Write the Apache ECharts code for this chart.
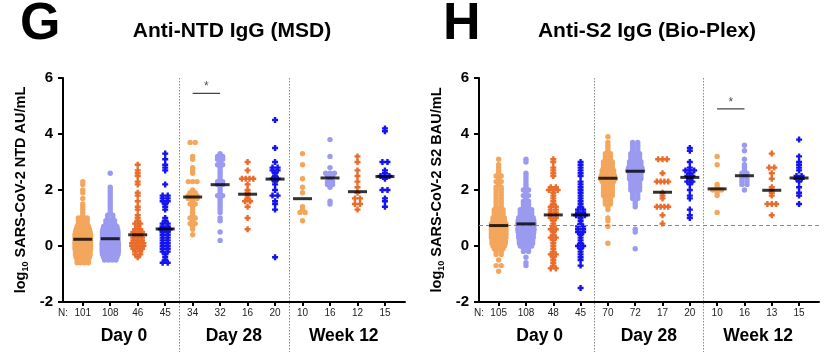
<!DOCTYPE html>
<html>
<head>
<meta charset="utf-8">
<script src="https://cdn.jsdelivr.net/npm/echarts@6/dist/echarts.min.js"></script>
<style>
  html, body { margin: 0; padding: 0; background: #fff; }
  #chart { width: 824px; height: 352px; }
</style>
</head>
<body>
<div id="chart"></div>
<script>
// Datos (log10)
// Panel G: Anti-NTD IgG (MSD)
const ntd_d0_a = [2.3, 2.2, 2.0, 1.9, 1.7, 1.5, 1.4, 1.3, 1.2, 1.1, 1.0, 1.0, 1.0, 0.9, 0.9, 0.9, 0.8, 0.8, 0.8,
  0.7, 0.7, 0.7, 0.7, 0.6, 0.6, 0.6, 0.6, 0.6, 0.5, 0.5, 0.5, 0.5, 0.5, 0.5, 0.4, 0.4, 0.4, 0.4, 0.4, 0.4, 0.4,
  0.3, 0.3, 0.3, 0.3, 0.3, 0.3, 0.3, 0.2, 0.2, 0.2, 0.2, 0.2, 0.2, 0.2, 0.1, 0.1, 0.1, 0.1, 0.1, 0.1, 0.1,
  0.0, 0.0, 0.0, 0.0, 0.0, 0.0, 0.0, -0.1, -0.1, -0.1, -0.1, -0.1, -0.1, -0.1, -0.2, -0.2, -0.2, -0.2, -0.2, -0.2,
  -0.3, -0.3, -0.3, -0.3, -0.3, -0.3, -0.4, -0.4, -0.4, -0.4, -0.4, -0.5, -0.5, -0.5, -0.5, -0.6, -0.6, -0.6, -0.6];
const ntd_d0_b = [2.6, 2.1, 2.0, 1.9, 1.8, 1.7, 1.6, 1.5, 1.4, 1.3, 1.2, 1.1, 1.1, 1.0, 1.0, 0.9, 0.9, 0.9,
  0.8, 0.8, 0.8, 0.7, 0.7, 0.7, 0.7, 0.7, 0.6, 0.6, 0.6, 0.6, 0.6, 0.6, 0.5, 0.5, 0.5, 0.5, 0.5, 0.5, 0.5,
  0.4, 0.4, 0.4, 0.4, 0.4, 0.4, 0.4, 0.3, 0.3, 0.3, 0.3, 0.3, 0.3, 0.3, 0.2, 0.2, 0.2, 0.2, 0.2, 0.2, 0.2,
  0.1, 0.1, 0.1, 0.1, 0.1, 0.1, 0.1, 0.1, 0.0, 0.0, 0.0, 0.0, 0.0, 0.0, 0.0, 0.0,
  -0.1, -0.1, -0.1, -0.1, -0.1, -0.1, -0.1, -0.1, -0.2, -0.2, -0.2, -0.2, -0.2, -0.2, -0.2, -0.2,
  -0.3, -0.3, -0.3, -0.3, -0.3, -0.3, -0.3, -0.4, -0.4, -0.4, -0.4, -0.4, -0.5, -0.5, -0.5, -0.5];
const ntd_d0_c = [2.9, 2.7, 2.6, 2.5, 2.3, 2.2, 1.9, 1.8, 1.6, 1.4, 1.3, 1.1, 1.0, 0.9, 0.8, 0.8, 0.7, 0.6, 0.6,
  0.5, 0.5, 0.5, 0.4, 0.4, 0.3, 0.3, 0.3, 0.2, 0.2, 0.2, 0.1, 0.1, 0.1, 0.1, 0.0, 0.0, 0.0, 0.0,
  -0.1, -0.1, -0.1, -0.2, -0.2, -0.3, -0.3, -0.4];
const ntd_d0_d = [3.3, 3.1, 2.9, 2.8, 2.7, 2.2, 1.8, 1.8, 1.7, 1.7, 1.6, 1.6, 1.5, 1.4, 1.3, 1.0, 0.9, 0.8, 0.8,
  0.7, 0.7, 0.6, 0.6, 0.6, 0.5, 0.5, 0.4, 0.4, 0.3, 0.3, 0.2, 0.2, 0.1, 0.1, 0.0, 0.0, -0.1, -0.1,
  -0.2, -0.2, -0.3, -0.4, -0.5, -0.6, -0.6];
const ntd_d28_a = [3.7, 3.7, 3.2, 3.1, 2.8, 2.7, 2.6, 2.3, 2.3, 2.3, 2.0, 1.9, 1.9, 1.8, 1.8, 1.8, 1.7, 1.7, 1.7,
  1.6, 1.5, 1.5, 1.4, 1.3, 1.2, 1.1, 1.0, 1.0, 0.9, 0.8, 0.8, 0.7, 0.6, 0.4];
const ntd_d28_b = [3.3, 3.2, 3.2, 3.1, 3.1, 3.0, 2.9, 2.9, 2.8, 2.7, 2.6, 2.5, 2.4, 2.3, 2.3, 2.2, 2.2, 2.1, 2.0,
  1.9, 1.8, 1.8, 1.7, 1.6, 1.5, 1.4, 1.3, 1.2, 1.0, 0.9, 0.5, 0.2];
const ntd_d28_c = [3.0, 2.7, 2.4, 2.4, 2.4, 2.4, 2.2, 2.0, 1.9, 1.8, 1.7, 1.6, 1.6, 1.4, 1.0, 0.6];
const ntd_d28_d = [4.5, 3.5, 3.0, 2.8, 2.8, 2.7, 2.7, 2.6, 2.5, 2.4, 2.4, 2.3, 2.2, 2.0, 1.8, 1.8, 1.6, 1.5, 1.3, -0.4];
const ntd_w12_a = [3.3, 2.9, 2.4, 2.1, 1.9, 1.4, 1.3, 1.2, 1.2, 0.9];
const ntd_w12_b = [3.8, 3.2, 2.8, 2.6, 2.6, 2.6, 2.5, 2.5, 2.4, 2.3, 2.3, 2.2, 2.2, 2.1, 1.6, 1.5];
const ntd_w12_c = [3.2, 3.0, 2.7, 2.5, 2.3, 2.1, 1.9, 1.7, 1.7, 1.5, 1.5, 1.3];
const ntd_w12_d = [4.2, 4.1, 3.0, 3.0, 2.7, 2.6, 2.5, 2.5, 2.5, 2.4, 2.0, 2.0, 1.7, 1.6, 1.4];
const ntdMedians = [0.24, 0.26, 0.40, 0.61, 1.75, 2.19, 1.85, 2.39, 1.69, 2.43, 1.94, 2.48];
const ntdN = [101, 108, 46, 45, 34, 32, 16, 20, 10, 16, 12, 15];

// Panel H: Anti-S2 IgG (Bio-Plex)
const s2_d0_a = [3.1, 2.9, 2.8, 2.7, 2.6, 2.5, 2.5, 2.4, 2.3, 2.3, 2.2, 2.1, 2.1, 2.0, 2.0, 1.9, 1.9, 1.8, 1.8,
  1.7, 1.7, 1.6, 1.6, 1.5, 1.5, 1.4, 1.4, 1.3, 1.3, 1.3, 1.2, 1.2, 1.2, 1.1, 1.1, 1.1, 1.0, 1.0, 1.0, 1.0,
  0.9, 0.9, 0.9, 0.9, 0.8, 0.8, 0.8, 0.8, 0.8, 0.8, 0.7, 0.7, 0.7, 0.7, 0.7, 0.7,
  0.6, 0.6, 0.6, 0.6, 0.6, 0.6, 0.5, 0.5, 0.5, 0.5, 0.5, 0.5, 0.4, 0.4, 0.4, 0.4, 0.4, 0.4,
  0.3, 0.3, 0.3, 0.3, 0.3, 0.3, 0.2, 0.2, 0.2, 0.2, 0.2, 0.1, 0.1, 0.1, 0.1, 0.1, 0.0, 0.0, 0.0, 0.0,
  -0.1, -0.1, -0.1, -0.2, -0.2, -0.3, -0.3, -0.5, -0.7, -0.7, -0.9];
const s2_d0_b = [3.1, 3.0, 2.6, 2.5, 2.4, 2.3, 2.2, 2.1, 2.0, 2.0, 1.9, 1.8, 1.8, 1.7, 1.6, 1.6, 1.5, 1.5, 1.4, 1.4,
  1.3, 1.3, 1.3, 1.3, 1.2, 1.2, 1.2, 1.2, 1.1, 1.1, 1.1, 1.1, 1.0, 1.0, 1.0, 1.0, 1.0, 1.0,
  0.9, 0.9, 0.9, 0.9, 0.9, 0.9, 0.9, 0.8, 0.8, 0.8, 0.8, 0.8, 0.8, 0.8, 0.8,
  0.7, 0.7, 0.7, 0.7, 0.7, 0.7, 0.7, 0.6, 0.6, 0.6, 0.6, 0.6, 0.6, 0.6, 0.6,
  0.5, 0.5, 0.5, 0.5, 0.5, 0.5, 0.5, 0.4, 0.4, 0.4, 0.4, 0.4, 0.4, 0.3, 0.3, 0.3, 0.3, 0.3, 0.3,
  0.2, 0.2, 0.2, 0.2, 0.2, 0.1, 0.1, 0.1, 0.1, 0.1, 0.0, 0.0, 0.0, 0.0,
  -0.1, -0.1, -0.2, -0.2, -0.4, -0.6, -0.7];
const s2_d0_c = [3.1, 3.0, 2.8, 2.7, 2.6, 2.5, 2.1, 2.1, 2.0, 2.0, 2.0, 1.9, 1.8, 1.7, 1.6, 1.5, 1.4, 1.4, 1.3, 1.3,
  1.2, 1.2, 1.1, 1.1, 1.0, 1.0, 0.9, 0.8, 0.7, 0.6, 0.6, 0.5, 0.4, 0.3, 0.3, 0.2, 0.1, 0.0,
  -0.1, -0.2, -0.3, -0.3, -0.4, -0.5, -0.6, -0.7, -0.8, -0.8];
const s2_d0_d = [3.0, 2.9, 2.8, 2.7, 2.6, 2.5, 2.3, 2.2, 2.1, 2.0, 1.9, 1.8, 1.7, 1.6, 1.5, 1.4, 1.3, 1.3, 1.2, 1.2,
  1.1, 1.1, 1.1, 1.0, 0.9, 0.8, 0.7, 0.7, 0.6, 0.6, 0.5, 0.5, 0.4, 0.3, 0.2, 0.1, 0.0, 0.0,
  -0.1, -0.2, -0.3, -0.4, -0.5, -0.7, -1.5];
const s2_d28_a = [3.9, 3.7, 3.6, 3.5, 3.4, 3.3, 3.3, 3.2, 3.2, 3.1, 3.1, 3.0, 3.0, 3.0, 2.9, 2.9, 2.9,
  2.8, 2.8, 2.8, 2.7, 2.7, 2.7, 2.7, 2.6, 2.6, 2.6, 2.6, 2.5, 2.5, 2.5, 2.5, 2.5,
  2.4, 2.4, 2.4, 2.4, 2.4, 2.4, 2.3, 2.3, 2.3, 2.3, 2.2, 2.2, 2.2, 2.1, 2.1, 2.1, 2.0, 2.0, 2.0,
  1.9, 1.9, 1.9, 1.8, 1.8, 1.8, 1.7, 1.7, 1.6, 1.6, 1.5, 1.5, 1.4, 1.3, 1.0, 0.9, 0.7, 0.1];
const s2_d28_b = [3.7, 3.7, 3.6, 3.6, 3.5, 3.5, 3.4, 3.4, 3.3, 3.3, 3.3, 3.2, 3.2, 3.2, 3.1, 3.1, 3.1,
  3.0, 3.0, 3.0, 3.0, 2.9, 2.9, 2.9, 2.9, 2.8, 2.8, 2.8, 2.8, 2.8, 2.7, 2.7, 2.7, 2.7, 2.7, 2.7,
  2.6, 2.6, 2.6, 2.6, 2.5, 2.5, 2.5, 2.5, 2.4, 2.4, 2.4, 2.4, 2.3, 2.3, 2.3, 2.2, 2.2, 2.2,
  2.1, 2.1, 2.1, 2.0, 2.0, 2.0, 1.9, 1.9, 1.8, 1.8, 1.7, 1.7, 1.6, 1.5, 1.4, 0.6, 0.5, -0.1];
const s2_d28_c = [3.1, 3.1, 3.1, 2.6, 2.3, 2.3, 2.3, 2.3, 1.9, 1.8, 1.7, 1.4, 1.4, 1.4, 1.4, 1.1, 0.8];
const s2_d28_d = [3.5, 3.4, 3.0, 2.8, 2.7, 2.7, 2.7, 2.6, 2.5, 2.5, 2.4, 2.3, 2.3, 2.2, 2.0, 1.8, 1.7, 1.3, 1.1, 1.0];
const s2_w12_a = [3.2, 2.9, 2.2, 2.1, 2.0, 2.0, 2.0, 1.9, 1.8, 1.2];
const s2_w12_b = [3.6, 3.4, 3.1, 2.9, 2.8, 2.7, 2.6, 2.6, 2.5, 2.4, 2.4, 2.3, 2.3, 2.2, 2.2, 2.0];
const s2_w12_c = [3.3, 2.8, 2.8, 2.6, 2.4, 2.1, 2.0, 1.9, 1.8, 1.5, 1.5, 1.5, 1.1];
const s2_w12_d = [3.8, 3.2, 3.0, 2.9, 2.8, 2.7, 2.5, 2.5, 2.4, 2.4, 2.3, 2.1, 1.9, 1.8, 1.5];
const s2Medians = [0.73, 0.79, 1.11, 1.11, 2.42, 2.67, 1.92, 2.45, 2.04, 2.51, 1.99, 2.43];
const s2N = [105, 108, 48, 45, 70, 72, 17, 20, 10, 16, 13, 15];
const s2Cutoff = 0.74;

// Comparaciones significativas (posición del grupo, altura)
const ntdSigBar = [[4, 5.45], [5, 5.45]];
const ntdSigStar = [[4.5, 5.68]];
const s2SigBar = [[8, 4.9], [9, 4.9]];
const s2SigStar = [[8.5, 5.13]];

const timepoints = ['Day 0', 'Day 28', 'Week 12'];
const timepointCenters = [1.5, 5.5, 9.5];
const separatorsAt = [3.5, 7.5];

// Estilo
const FONT = '"Liberation Sans", Arial, sans-serif';
const colores = ['#F3A65C', '#9A9BF0', '#EA6C2B', '#1414F0'];
const plus = 'path://M3,0H7V3H10V7H7V10H3V7H0V3H3Z';
const X_MIN = -0.72, X_MAX = 11.73;
const ANCHO_MAX = 18;  // ancho límite de una fila (px)

const paneles = [
  {
    grupos: [ntd_d0_a, ntd_d0_b, ntd_d0_c, ntd_d0_d, ntd_d28_a, ntd_d28_b, ntd_d28_c, ntd_d28_d,
             ntd_w12_a, ntd_w12_b, ntd_w12_c, ntd_w12_d],
    medianas: ntdMedians, n: ntdN, left: 63, width: 342,
    yName: '{a|log}{b|10}{a| SARS-CoV-2 NTD AU/mL}',
    sigBar: ntdSigBar, sigStar: ntdSigStar, cutoff: null,
    letra: 'G', letraX: 20, titulo: 'Anti-NTD IgG (MSD)', tituloX: 232
  },
  {
    grupos: [s2_d0_a, s2_d0_b, s2_d0_c, s2_d0_d, s2_d28_a, s2_d28_b, s2_d28_c, s2_d28_d,
             s2_w12_a, s2_w12_b, s2_w12_c, s2_w12_d],
    medianas: s2Medians, n: s2N, left: 479, width: 340,
    yName: '{a|log}{b|10}{a| SARS-CoV-2 S2 BAU/mL}',
    sigBar: s2SigBar, sigStar: s2SigStar, cutoff: s2Cutoff,
    letra: 'H', letraX: 443, titulo: 'Anti-S2 IgG (Bio-Plex)', tituloX: 647
  }
];

// Distribuye los puntos de un grupo en filas (estilo column scatter)
function enjambre(valores, centro, pxPorUnidad) {
  const filas = {};
  valores.forEach(v => {
    const k = Math.round(v * 100);
    (filas[k] = filas[k] || []).push(v);
  });
  const puntos = [];
  Object.keys(filas).forEach(k => {
    const fila = filas[k];
    const m = fila.length;
    const ancho = ANCHO_MAX * (1 - Math.exp(-(m - 1) / 3));
    const paso = m > 1 ? ancho / (m - 1) : 0;
    fila.forEach((v, i) => {
      const off = (i - (m - 1) / 2) * paso;
      puntos.push([centro + off / pxPorUnidad, v]);
    });
  });
  return puntos;
}

const chartDom = document.getElementById('chart');
const myChart = echarts.init(chartDom, null, { renderer: 'canvas' });

const option = {
  animation: false,
  backgroundColor: '#fff',
  grid: [], xAxis: [], yAxis: [], series: []
};

paneles.forEach((p, g) => {
  const pxX = p.width / (X_MAX - X_MIN);
  const ticks = p.n.map((_, i) => i);
  option.grid.push({ left: p.left, width: p.width, top: 78, bottom: 50 });
  option.xAxis.push({
    type: 'value', gridIndex: g, min: X_MIN, max: X_MAX, position: 'bottom',
    axisLine: { onZero: false, lineStyle: { color: '#000', width: 2 } },
    axisTick: { customValues: ticks, length: 4, lineStyle: { color: '#000', width: 2 } },
    axisLabel: {
      customValues: [X_MIN].concat(ticks),
      formatter: v => (v < 0 ? 'N:' : String(p.n[Math.round(v)])),
      fontSize: 10, color: '#222', margin: 6, fontFamily: FONT
    },
    splitLine: { show: false }
  });
  option.xAxis.push({
    type: 'value', gridIndex: g, min: X_MIN, max: X_MAX, position: 'bottom',
    axisLine: { show: false, onZero: false }, axisTick: { show: false },
    axisLabel: {
      customValues: timepointCenters,
      formatter: v => timepoints[timepointCenters.indexOf(v)],
      fontSize: 17.5, fontWeight: 'bold', color: '#000', margin: 25, fontFamily: FONT
    },
    splitLine: { show: false }
  });
  option.yAxis.push({
    type: 'value', gridIndex: g, min: -2, max: 6, interval: 2,
    axisLine: { show: true, onZero: false, lineStyle: { color: '#000', width: 2 } },
    axisTick: { show: true, length: 5, lineStyle: { color: '#000', width: 2 } },
    axisLabel: { fontSize: 15, fontWeight: 'bold', color: '#000', margin: 10, fontFamily: FONT },
    splitLine: { show: false },
    name: p.yName, nameLocation: 'middle', nameGap: 33, nameRotate: 90,
    nameTextStyle: {
      rich: {
        a: { fontSize: 14.5, fontWeight: 'bold', color: '#000', fontFamily: FONT, lineHeight: 18, verticalAlign: 'middle' },
        b: { fontSize: 9, fontWeight: 'bold', color: '#000', fontFamily: FONT, lineHeight: 18, verticalAlign: 'bottom' }
      }
    }
  });
  const xi = g * 2, yi = g;

  // Puntos por color
  for (let c = 0; c < 4; c++) {
    let datos = [];
    for (let t = 0; t < 3; t++) {
      const idx = t * 4 + c;
      datos = datos.concat(enjambre(p.grupos[idx], idx, pxX));
    }
    option.series.push({
      type: 'scatter', xAxisIndex: xi, yAxisIndex: yi,
      symbol: c < 2 ? 'circle' : plus,
      symbolSize: c < 2 ? 5.4 : 6,
      itemStyle: { color: colores[c], opacity: 1 },
      data: datos, z: 2
    });
  }

  // Medianas
  const serieMed = {
    type: 'scatter', xAxisIndex: xi, yAxisIndex: yi,
    symbol: 'rect', symbolSize: [19, 3],
    itemStyle: { color: '#000' },
    data: p.medianas.map((m, i) => [i, m]), z: 5
  };
  if (p.cutoff !== null) {
    serieMed.markLine = {
      silent: true, symbol: ['none', 'none'], label: { show: false },
      lineStyle: { color: '#8a8a8a', type: [4, 3], width: 1.2 },
      data: [{ yAxis: p.cutoff }]
    };
  }
  option.series.push(serieMed);

  // Significancia
  option.series.push({
    type: 'line', xAxisIndex: xi, yAxisIndex: yi, symbol: 'none',
    lineStyle: { color: '#444', width: 1.3 }, data: p.sigBar, z: 3
  });
  option.series.push({
    type: 'scatter', xAxisIndex: xi, yAxisIndex: yi, symbolSize: 1,
    itemStyle: { color: 'rgba(0,0,0,0)' },
    label: { show: true, position: 'inside', formatter: '*', fontSize: 12, color: '#222', fontFamily: FONT },
    data: p.sigStar, z: 3
  });
});

myChart.setOption(option);

// Títulos y separadores punteados
const graficos = [];
paneles.forEach((p, g) => {
  graficos.push({
    type: 'text', x: p.letraX, y: 25,
    style: { text: p.letra, font: 'bold 52px ' + FONT, fill: '#000', textVerticalAlign: 'middle' }
  });
  graficos.push({
    type: 'text', x: p.tituloX, y: 31,
    style: { text: p.titulo, font: 'bold 21px ' + FONT, fill: '#000', textAlign: 'center', textVerticalAlign: 'middle' }
  });
  separatorsAt.forEach(v => {
    const [px, py] = myChart.convertToPixel({ xAxisIndex: g * 2, yAxisIndex: g }, [v, 6]);
    graficos.push({
      type: 'line', silent: true,
      shape: { x1: Math.round(px) + 0.5, y1: py, x2: Math.round(px) + 0.5, y2: 352 },
      style: { stroke: '#8a8a8a', lineWidth: 1, lineDash: [1.5, 1.5] }
    });
  });
});
myChart.setOption({ graphic: graficos });
</script>
</body>
</html>
